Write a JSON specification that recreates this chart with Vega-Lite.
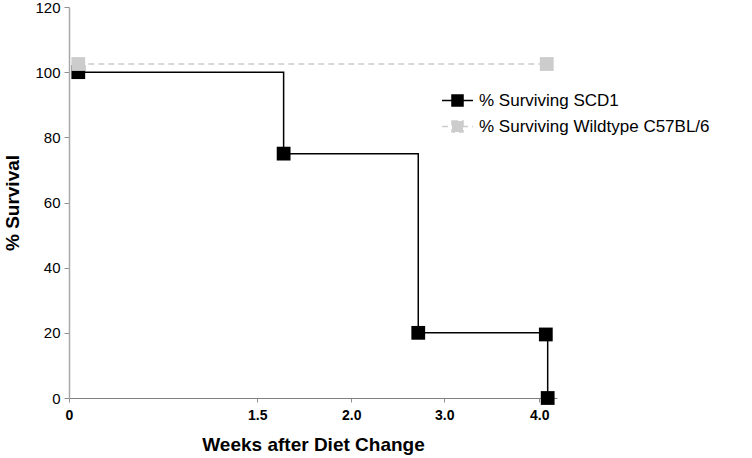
{
  "$schema": "https://vega.github.io/schema/vega-lite/v6.json",
  "autosize": {"type": "none"},
  "padding": {"left": 69, "top": 7, "right": 195, "bottom": 60},
  "width": 488,
  "height": 391,
  "background": "white",
  "config": {
    "view": {"stroke": null},
    "font": "Liberation Sans",
    "axis": {"grid": false, "labelFont": "Liberation Sans", "titleFont": "Liberation Sans", "labelColor": "#000000", "titleColor": "#000000"}
  },
  "data": {
    "values": [
      {"weeks": 0.074, "survival": 100, "series": "% Surviving SCD1"},
      {"weeks": 1.64, "survival": 75, "series": "% Surviving SCD1"},
      {"weeks": 2.72, "survival": 20, "series": "% Surviving SCD1"},
      {"weeks": 4.07, "survival": 19.5, "series": "% Surviving SCD1"},
      {"weeks": 4.09, "survival": 0, "series": "% Surviving SCD1"},
      {"weeks": 0.074, "survival": 102.5, "series": "% Surviving Wildtype C57BL/6"},
      {"weeks": 4.08, "survival": 102.5, "series": "% Surviving Wildtype C57BL/6"}
    ]
  },
  "encoding": {
    "x": {
      "field": "weeks", "type": "quantitative",
      "scale": {"domain": [0, 1.5, 2, 3, 4, 4.19], "range": [0, 188.3, 282.3, 375.3, 470.3, 488], "nice": false, "zero": false},
      "axis": {
        "values": [0, 1.5, 2, 3, 4],
        "labelExpr": "datum.value == 0 ? '0' : format(datum.value, '.1f')",
        "title": "Weeks after Diet Change",
        "titleFontSize": 19, "titleFontWeight": "bold", "titlePadding": 13,
        "labelFontSize": 14, "labelFontWeight": "bold", "labelPadding": 6,
        "domainColor": "#808080", "domainWidth": 1.2,
        "tickColor": "#909090", "tickSize": 4, "labelFlush": false
      }
    },
    "y": {
      "field": "survival", "type": "quantitative",
      "scale": {"domain": [0, 120], "nice": false},
      "axis": {
        "values": [0, 20, 40, 60, 80, 100, 120],
        "title": "% Survival",
        "titleFontSize": 19, "titleFontWeight": "bold", "titlePadding": 12,
        "labelFontSize": 15, "labelPadding": 4,
        "domainColor": "#a8a8a8", "domainWidth": 1.5,
        "tickColor": "#909090", "tickSize": 5
      }
    },
    "color": {
      "field": "series", "type": "nominal",
      "scale": {"domain": ["% Surviving SCD1", "% Surviving Wildtype C57BL/6"], "range": ["#000000", "#cccccc"]},
      "legend": {
        "title": null,
        "orient": "none", "legendX": 380, "legendY": 85,
        "labelFont": "Liberation Sans", "labelFontSize": 17, "labelColor": "#000000", "labelLimit": 0,
        "symbolType": "M-2.58,0H2.58M-0.92,-0.92H0.92V0.92H-0.92Z",
        "symbolSize": 144, "symbolStrokeWidth": 1.5,
        "rowPadding": 7, "labelOffset": 13,
        "encode": {"symbols": {"update": {"fill": {"scale": "color", "field": "value"}, "stroke": {"scale": "color", "field": "value"}, "strokeDash": {"value": [1, 0]}}}}
      }
    }
  },
  "layer": [
    {
      "mark": {"type": "line", "interpolate": "step-after", "strokeWidth": 1.5},
      "encoding": {
        "strokeDash": {
          "field": "series", "type": "nominal",
          "scale": {"domain": ["% Surviving SCD1", "% Surviving Wildtype C57BL/6"], "range": [[1, 0], [6, 4]]},
          "legend": null
        }
      }
    },
    {
      "mark": {"type": "point", "shape": "square", "filled": true, "size": 190, "opacity": 1}
    }
  ]
}
